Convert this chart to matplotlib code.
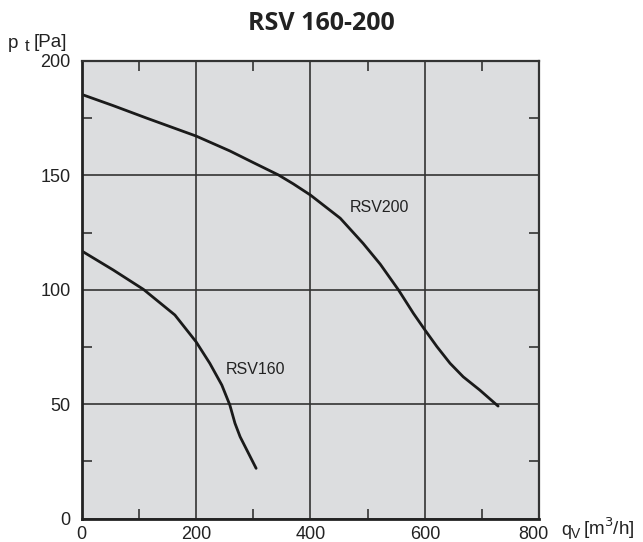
import matplotlib.pyplot as plt
from matplotlib.transforms import ScaledTranslation

# Fan curves
q_200 = [0, 55, 114, 200, 259, 300, 344, 370, 400, 452, 492, 522, 554, 580, 600,
         621, 644, 667, 696, 728]
p_200 = [185.4, 180.5, 175, 167.2, 160.7, 155.6, 150.2, 146.3, 141.4, 131.3, 120.3,
         111.2, 99.9, 89.7, 82.5, 75.2, 67.9, 62, 56.2, 49.2]

q_160 = [0, 55, 108, 163, 200, 224, 245, 259, 268, 277, 305]
p_160 = [117, 108.7, 100.2, 89, 77.3, 67.9, 58.4, 49.7, 41.7, 35.8, 22]

x_ticks = [0, 200, 400, 600, 800]
y_ticks = [0, 50, 100, 150, 200]

plt.rcParams['font.family'] = ['Liberation Sans', 'DejaVu Sans']

W, H = 643, 542
fig = plt.figure(figsize=(W / 100, H / 100), dpi=100)
ax = fig.add_axes([0.127, 0.043, 0.7117, 0.8445])
ax.set_facecolor('#dcdddf')

ax.set_xlim(0, 800)
ax.set_ylim(0, 200)
ax.set_xticks(x_ticks)
ax.set_yticks(y_ticks)
ax.set_xticks([100, 300, 500, 700], minor=True)
ax.set_yticks([25, 75, 125, 175], minor=True)
ax.grid(which='major', color='#333333', linewidth=1.2)
ax.set_axisbelow(True)

ax.tick_params(which='major', length=0, labelsize=13, labelcolor='#222222')
ax.tick_params(axis='x', which='major', pad=5)
ax.tick_params(axis='y', which='major', pad=8)
ax.tick_params(which='minor', direction='in', length=7, width=1.2,
               color='#333333', top=True, right=True)

# the 800 label sits a bit to the left in the original
lab = ax.get_xticklabels()[-1]
lab.set_transform(lab.get_transform() + ScaledTranslation(-6 / 100, 0, fig.dpi_scale_trans))

for side in ['left', 'bottom']:
    ax.spines[side].set_linewidth(2.0)
    ax.spines[side].set_color('#222222')
for side in ['top', 'right']:
    ax.spines[side].set_linewidth(1.6)
    ax.spines[side].set_color('#333333')

ax.plot(q_200, p_200, color='#1a1a1a', linewidth=2.0, solid_capstyle='round')
ax.plot(q_160, p_160, color='#1a1a1a', linewidth=2.0, solid_capstyle='round')

ax.text(520, 136, 'RSV200', fontsize=11.5, color='#222222', ha='center', va='center')
ax.text(304, 65.4, 'RSV160', fontsize=11.5, color='#222222', ha='center', va='center')

fig.text(0.5, 1 - 24 / H, 'RSV 160-200', fontsize=18, fontweight='bold',
         family=['Open Sans', 'DejaVu Sans'], color='#222222', ha='center', va='center')

# axis titles, placed in pixels like the original
def px_text(x, y, s, size):
    fig.text(x / W, 1 - y / H, s, fontsize=size, color='#222222',
             ha='left', va='baseline')

px_text(8, 48, 'p', 13.5)
px_text(25, 51, 't', 12)
px_text(34, 47, '[Pa]', 13.5)
px_text(561, 535, 'q', 13)
px_text(571, 538, 'V', 10)
px_text(583, 535, r'[m$^3$/h]', 13.5)

fig.savefig('out.png', dpi=100)
